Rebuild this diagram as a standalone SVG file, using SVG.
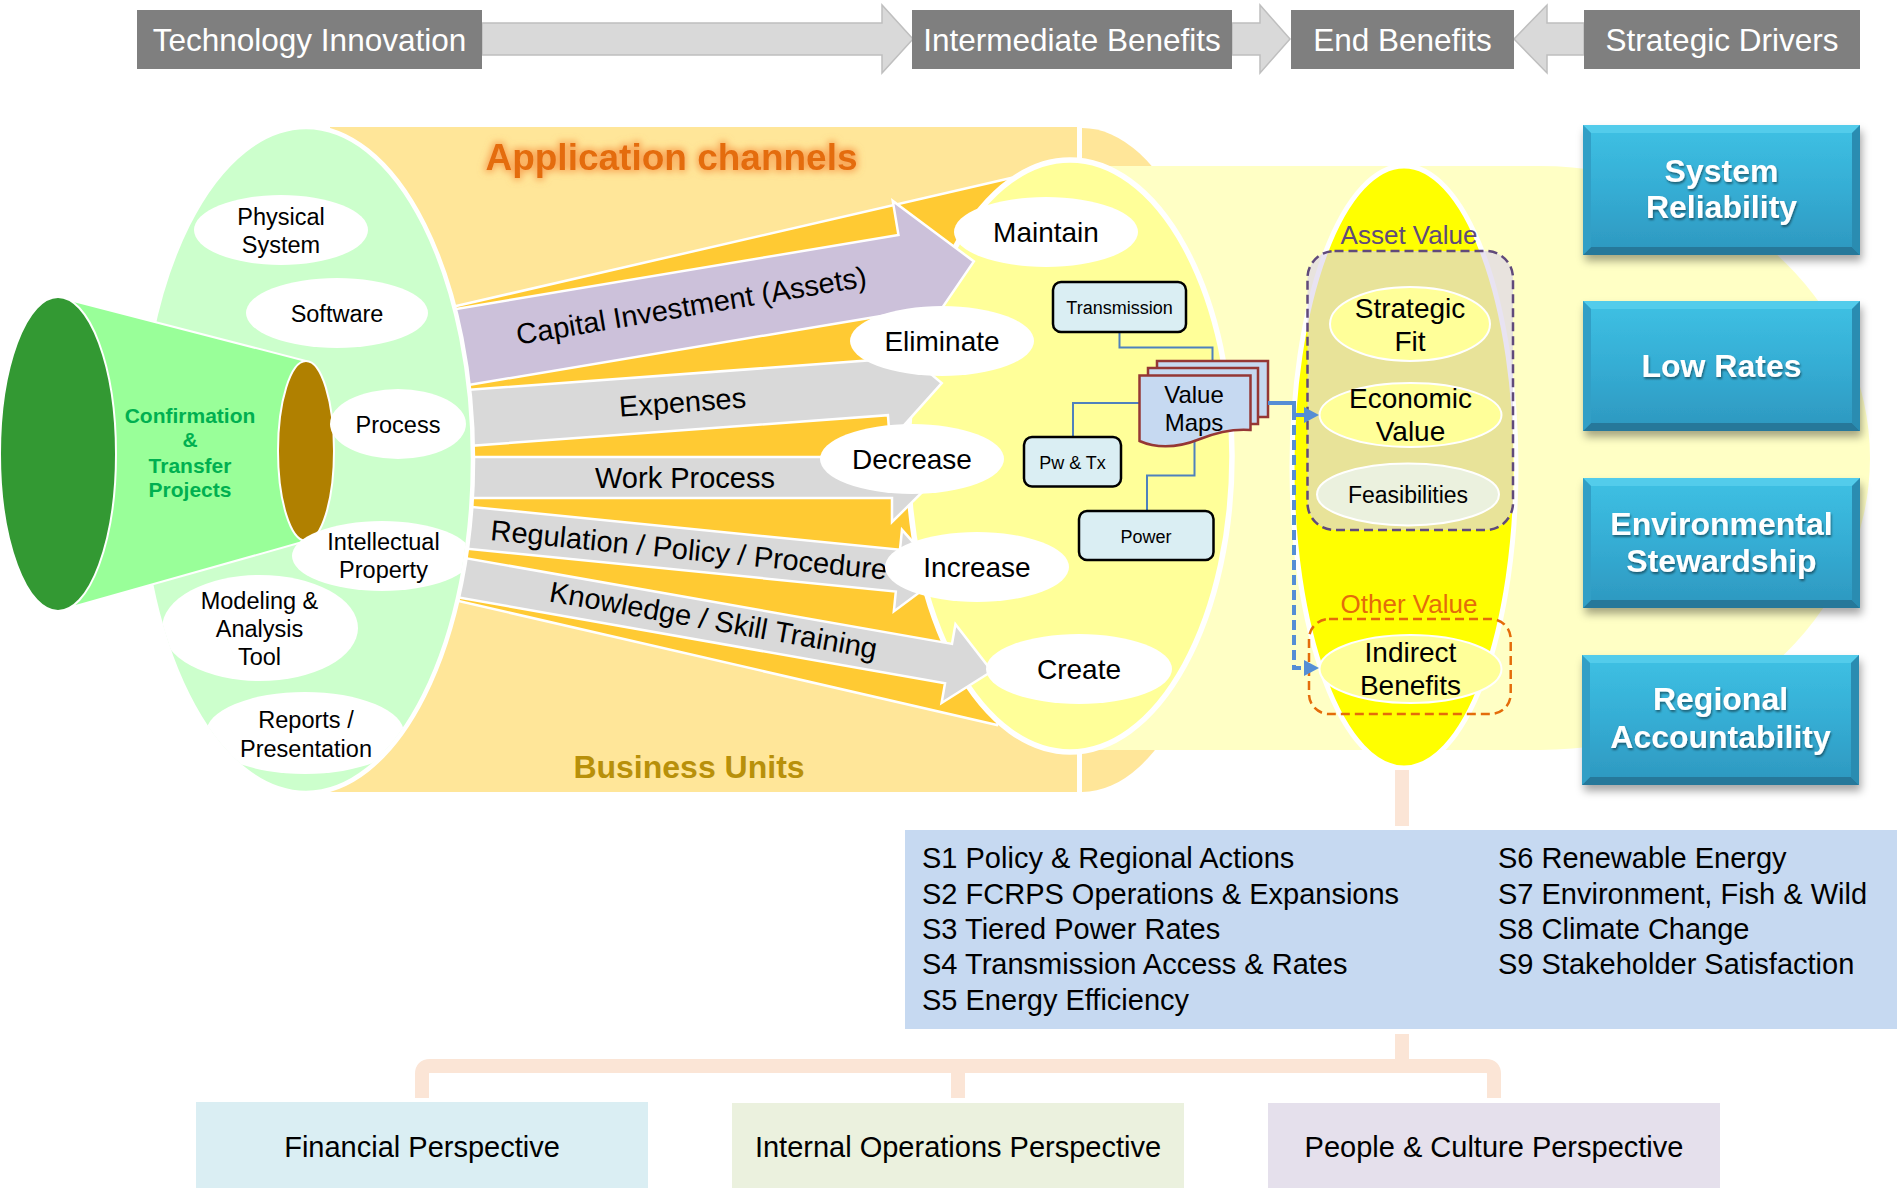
<svg xmlns="http://www.w3.org/2000/svg" width="1897" height="1188" viewBox="0 0 1897 1188">
<defs>
<style>
text{font-family:"Liberation Sans",Arial,Helvetica,sans-serif;fill:#000}
.hdr{fill:#7F7F7F}
.hdrt{fill:#fff;font-size:31.5px;text-anchor:middle}
.harr{fill:#D9D9D9;stroke:#BFBFBF;stroke-width:1.5}
.wel{fill:#fff}
.gt{font-size:23.5px;text-anchor:middle}
.it{font-size:28px;text-anchor:middle}
.at{font-size:29px;text-anchor:middle}
.arr{stroke:#fff;stroke-width:2.5}
.gray{fill:#D9D9D9}
.purple{fill:#CCC1DA}
.sbox{fill:#DAEEF3;stroke:#000;stroke-width:2.5}
.st{font-size:18px;text-anchor:middle}
.conn{fill:none;stroke:#4F81BD;stroke-width:2}
.blue{fill:none;stroke:#558ED5;stroke-width:4}
.bluehead{fill:#558ED5}
.yel{fill:#FFFF99;stroke:#fff;stroke-width:2}
.vt{font-size:28px;text-anchor:middle}
.bt{fill:#fff;font-size:32px;font-weight:bold;text-anchor:middle}
.peach{fill:none;stroke:#FBE5D6;stroke-width:14}
.s{font-size:29px}
.pt{font-size:29px;text-anchor:middle}
.doc{fill:#C6D9F1;stroke:#953735;stroke-width:2.5}
</style>
<linearGradient id="bg" x1="0" y1="0" x2="0" y2="1">
<stop offset="0" stop-color="#3EC1E4"/>
<stop offset="0.5" stop-color="#35ADD4"/>
<stop offset="1" stop-color="#2D97BF"/>
</linearGradient>
<filter id="sh" x="-10%" y="-10%" width="125%" height="140%">
<feDropShadow dx="2" dy="6" stdDeviation="4" flood-color="#000" flood-opacity="0.35"/>
</filter>
<filter id="tsh" x="-10%" y="-20%" width="120%" height="150%">
<feDropShadow dx="1" dy="2" stdDeviation="1.2" flood-color="#000" flood-opacity="0.45"/>
</filter>
<filter id="glow" x="-10%" y="-40%" width="120%" height="180%">
<feMorphology in="SourceAlpha" operator="dilate" radius="1.5" result="d"/>
<feGaussianBlur in="d" stdDeviation="3.5" result="b"/>
<feFlood flood-color="#F79646" flood-opacity="0.75"/>
<feComposite in2="b" operator="in" result="g"/>
<feMerge><feMergeNode in="g"/><feMergeNode in="SourceGraphic"/></feMerge>
</filter>
<clipPath id="gclip"><ellipse cx="306" cy="460" rx="165" ry="331"/></clipPath>
<g id="bbox">
<rect x="0" y="0" width="277" height="130" fill="url(#bg)"/>
<polygon points="0,0 277,0 269,8 8,8" fill="#52CCEB"/>
<polygon points="0,130 277,130 269,122 8,122" fill="#26789A"/>
<polygon points="0,0 8,8 8,122 0,130" fill="#309FC6"/>
<polygon points="277,0 269,8 269,122 277,130" fill="#2A8CB1"/>
</g>
</defs>

<rect x="0" y="0" width="1897" height="1188" fill="#fff"/>

<!-- top bar -->
<g id="top-bar">
<polygon class="harr" points="482,23 882,23 882,5 913,39 882,73 882,55 482,55"/>
<polygon class="harr" points="1232,23 1260,23 1260,5 1290,39 1260,73 1260,55 1232,55"/>
<polygon class="harr" points="1584,23 1547,23 1547,5 1514,39 1547,73 1547,55 1584,55"/>
<g id="technology-innovation"><rect class="hdr" x="137" y="10" width="345" height="59"/><text class="hdrt" x="309.5" y="51">Technology Innovation</text></g>
<g id="intermediate-benefits"><rect class="hdr" x="912" y="10" width="320" height="59"/><text class="hdrt" x="1072" y="51">Intermediate Benefits</text></g>
<g id="end-benefits"><rect class="hdr" x="1291" y="10" width="223" height="59"/><text class="hdrt" x="1402.5" y="51">End Benefits</text></g>
<g id="strategic-drivers"><rect class="hdr" x="1584" y="10" width="276" height="59"/><text class="hdrt" x="1722" y="51">Strategic Drivers</text></g>
</g>

<!-- backgrounds -->
<g id="backgrounds">
<rect x="330" y="127" width="747" height="665" fill="#FFE699"/>
<path d="M1082,128 A150,332 0 0 1 1082,792 Z" fill="#FFE699"/>
<path d="M1070,166 H1540 A330,292 0 0 1 1540,750 H1070 Z" fill="#FFFFC5"/>
<polygon points="440,309.8 1011,178 1060,300 1060,600 997,725 440,596.7" fill="#FFCA33" stroke="#fff" stroke-width="2.5"/>
</g>

<g id="intermediate-ellipse">
<ellipse cx="1070" cy="456" rx="162" ry="296" fill="#FFFF99" stroke="#fff" stroke-width="5.5"/>
</g>

<!-- channel arrows -->
<g id="channels">
<g id="capital-investment" transform="translate(460,347.4) rotate(-9.5)">
<path class="arr purple" d="M-40,-38.5 H451 V-73 L521,0 L451,73 V38.5 H-40 Z"/>
<text class="at" x="235" y="7">Capital Investment (Assets)</text>
</g>
<g id="expenses" transform="translate(474,417.5) rotate(-4.2)">
<path class="arr gray" d="M-40,-28 H413 V-54 L469,0 L413,54 V28 H-40 Z"/>
<text class="at" x="209" y="10">Expenses</text>
</g>
<g id="work-process" transform="translate(477,477.5)">
<path class="arr gray" d="M-40,-20.5 H415 V-44.5 L460,0 L415,44.5 V20.5 H-40 Z"/>
<text class="at" x="208" y="10.5">Work Process</text>
</g>
<g id="regulation" transform="translate(476,528.5) rotate(5.7)">
<path class="arr gray" d="M-40,-21 H424 V-41 L469,0 L424,41 V21 H-40 Z"/>
<text class="at" x="214" y="10">Regulation / Policy / Procedure</text>
</g>
<g id="knowledge" transform="translate(463,578) rotate(10)">
<path class="arr gray" d="M-40,-20 H493 V-40 L537,0 L493,40 V20 H-40 Z"/>
<text class="at" x="254" y="8">Knowledge / Skill Training</text>
</g>
</g>

<!-- technology ellipse -->
<g id="technology-ellipse">
<ellipse cx="306" cy="460" rx="167" ry="333" fill="#CCFFCC" stroke="#fff" stroke-width="4.5"/>
</g>

<g id="confirmation-transfer-projects">
<polygon points="58,297 306,361 306,541 58,611" fill="#99FF99" stroke="#fff" stroke-width="2"/>
<ellipse cx="58" cy="454" rx="58" ry="157" fill="#339933" stroke="#fff" stroke-width="2"/>
<ellipse cx="306" cy="451" rx="28" ry="90" fill="#B08000" stroke="#fff" stroke-width="2"/>
<text x="190" y="422.7" style="font-size:21px;font-weight:bold;fill:#00B050;text-anchor:middle">Confirmation</text>
<text x="190" y="446.7" style="font-size:21px;font-weight:bold;fill:#00B050;text-anchor:middle">&amp;</text>
<text x="190" y="473" style="font-size:21px;font-weight:bold;fill:#00B050;text-anchor:middle">Transfer</text>
<text x="190" y="497" style="font-size:21px;font-weight:bold;fill:#00B050;text-anchor:middle">Projects</text>
</g>

<g id="tech-items" clip-path="url(#gclip)">
<g id="physical-system"><ellipse class="wel" cx="281" cy="230" rx="87" ry="35"/><text class="gt" x="281" y="225">Physical</text><text class="gt" x="281" y="253">System</text></g>
<g id="software"><ellipse class="wel" cx="337" cy="313" rx="91" ry="35"/><text class="gt" x="337" y="321.5">Software</text></g>
<g id="process"><ellipse class="wel" cx="398" cy="424" rx="68" ry="35"/><text class="gt" x="398" y="432.5">Process</text></g>
<g id="intellectual-property"><ellipse class="wel" cx="382" cy="556" rx="90" ry="35"/><text class="gt" x="383.5" y="550">Intellectual</text><text class="gt" x="383.5" y="578">Property</text></g>
<g id="modeling-analysis-tool"><ellipse class="wel" cx="260" cy="628" rx="98" ry="53"/><text class="gt" x="259.5" y="609.3">Modeling &amp;</text><text class="gt" x="259.5" y="636.7">Analysis</text><text class="gt" x="259.5" y="665">Tool</text></g>
<g id="reports-presentation"><ellipse class="wel" cx="305" cy="733" rx="99" ry="41"/><text class="gt" x="306" y="728">Reports /</text><text class="gt" x="306" y="756.7">Presentation</text></g>
</g>

<g id="intermediate-items">
<g id="maintain"><ellipse class="wel" cx="1046" cy="232" rx="92" ry="35"/><text class="it" x="1046" y="242">Maintain</text></g>
<g id="eliminate"><ellipse class="wel" cx="942" cy="341" rx="92" ry="35"/><text class="it" x="942" y="351">Eliminate</text></g>
<g id="decrease"><ellipse class="wel" cx="912" cy="459" rx="92" ry="35"/><text class="it" x="912" y="469">Decrease</text></g>
<g id="increase"><ellipse class="wel" cx="977" cy="567" rx="92" ry="35"/><text class="it" x="977" y="577">Increase</text></g>
<g id="create"><ellipse class="wel" cx="1079" cy="669" rx="93" ry="35"/><text class="it" x="1079" y="679">Create</text></g>
</g>

<g id="value-map-connectors">
<path class="conn" d="M1119.5,332 V347.5 H1212.5 V361"/>
<path class="conn" d="M1073,437 V403 H1139.5"/>
<path class="conn" d="M1147,511 V475.5 H1194.5 V441"/>
</g>

<g id="transmission"><rect class="sbox" x="1053" y="282" width="133" height="50" rx="8"/><text class="st" x="1119.5" y="314">Transmission</text></g>
<g id="pw-tx"><rect class="sbox" x="1024" y="437" width="97" height="49.5" rx="8"/><text class="st" x="1072.5" y="469">Pw &amp; Tx</text></g>
<g id="power"><rect class="sbox" x="1079" y="511" width="134.5" height="49" rx="8"/><text class="st" x="1146" y="543">Power</text></g>

<g id="value-maps">
<rect class="doc" x="1157" y="361" width="111" height="56"/>
<rect class="doc" x="1148" y="368" width="110" height="56"/>
<path class="doc" d="M1139.5,375.5 H1250.5 V430 C1238,429 1220,431 1200,439 C1180,447 1160,450 1139.5,441 Z"/>
<text x="1194" y="403" style="font-size:24px;text-anchor:middle">Value</text>
<text x="1194" y="431" style="font-size:24px;text-anchor:middle">Maps</text>
</g>

<!-- end benefits column -->
<g id="end-benefits-ellipse">
<ellipse cx="1404" cy="467" rx="112" ry="301" fill="#FFFF00" stroke="#fff" stroke-width="5"/>
</g>

<g id="asset-value">
<rect x="1307.5" y="251" width="205.5" height="279" rx="27" fill="#DCD4EB" fill-opacity="0.65" stroke="#604A7B" stroke-width="2.5" stroke-dasharray="9 5"/>
<text x="1409" y="244" style="font-size:26px;fill:#604A7B;text-anchor:middle">Asset Value</text>
<g id="strategic-fit"><ellipse class="yel" cx="1410" cy="324" rx="80" ry="37"/><text class="vt" x="1410" y="318">Strategic</text><text class="vt" x="1410" y="350.5">Fit</text></g>
<g id="economic-value"><ellipse class="yel" cx="1410.5" cy="415" rx="91" ry="32"/><text class="vt" x="1410.5" y="408">Economic</text><text class="vt" x="1410.5" y="441">Value</text></g>
<g id="feasibilities"><ellipse cx="1408" cy="494.4" rx="91" ry="31" fill="#EBF1DE" stroke="#fff" stroke-width="2"/><text x="1408" y="503" style="font-size:23px;text-anchor:middle">Feasibilities</text></g>
</g>

<g id="other-value">
<rect x="1309" y="619" width="201.7" height="95" rx="20" fill="none" stroke="#E46C0A" stroke-width="2.5" stroke-dasharray="9 5"/>
<text x="1409" y="613" style="font-size:26px;fill:#E46C0A;text-anchor:middle">Other Value</text>
<g id="indirect-benefits"><ellipse class="yel" cx="1410.5" cy="669" rx="91" ry="34"/><text class="vt" x="1410.5" y="662">Indirect</text><text class="vt" x="1410.5" y="695">Benefits</text></g>
</g>

<g id="value-flow-connectors">
<path class="blue" d="M1268,403 H1294 V415 H1306"/>
<polygon class="bluehead" points="1304,407 1319,415 1304,423"/>
<path class="blue" d="M1294,410 V668 H1306" stroke-dasharray="10 5"/>
<polygon class="bluehead" points="1304,660 1319,668 1304,676"/>
</g>

<!-- strategic drivers -->
<g id="system-reliability"><use href="#bbox" x="1583" y="125" filter="url(#sh)"/><g filter="url(#tsh)"><text class="bt" x="1721.5" y="181.7">System</text><text class="bt" x="1721.5" y="218">Reliability</text></g></g>
<g id="low-rates"><use href="#bbox" x="1583" y="301" filter="url(#sh)"/><g filter="url(#tsh)"><text class="bt" x="1721.5" y="377">Low Rates</text></g></g>
<g id="environmental-stewardship"><use href="#bbox" x="1583" y="478" filter="url(#sh)"/><g filter="url(#tsh)"><text class="bt" x="1721.5" y="535">Environmental</text><text class="bt" x="1721.5" y="572">Stewardship</text></g></g>
<g id="regional-accountability"><use href="#bbox" x="1582" y="655" filter="url(#sh)"/><g filter="url(#tsh)"><text class="bt" x="1720.5" y="710">Regional</text><text class="bt" x="1720.5" y="748">Accountability</text></g></g>

<g id="labels">
<text x="671.5" y="170" filter="url(#glow)" style="font-size:37px;font-weight:bold;fill:#E46C0A;text-anchor:middle">Application channels</text>
<text x="689" y="778" style="font-size:32px;font-weight:bold;fill:#B8900A;text-anchor:middle">Business Units</text>
</g>

<!-- lower section -->
<g id="tree-connectors">
<path class="peach" d="M1402,770 V826"/>
<path class="peach" d="M1402,1034 V1066"/>
<path class="peach" d="M422,1098 V1074 Q422,1066 430,1066 H1486 Q1494,1066 1494,1074 V1098"/>
<path class="peach" d="M958,1066 V1098"/>
</g>

<g id="strategic-objectives">
<rect x="905" y="830" width="992" height="199" fill="#C6D9F1"/>
<text class="s" x="922" y="868">S1 Policy &amp; Regional Actions</text>
<text class="s" x="922" y="904">S2 FCRPS Operations &amp; Expansions</text>
<text class="s" x="922" y="939">S3 Tiered Power Rates</text>
<text class="s" x="922" y="974">S4 Transmission Access &amp; Rates</text>
<text class="s" x="922" y="1010">S5 Energy Efficiency</text>
<text class="s" x="1498" y="868">S6 Renewable Energy</text>
<text class="s" x="1498" y="904">S7 Environment, Fish &amp; Wild</text>
<text class="s" x="1498" y="939">S8 Climate Change</text>
<text class="s" x="1498" y="974">S9 Stakeholder Satisfaction</text>
</g>

<g id="financial-perspective"><rect x="196" y="1102" width="452" height="86" fill="#DAEEF3"/><text class="pt" x="422" y="1157">Financial Perspective</text></g>
<g id="internal-operations-perspective"><rect x="732" y="1103" width="452" height="85" fill="#EBF1DE"/><text class="pt" x="958" y="1157">Internal Operations Perspective</text></g>
<g id="people-culture-perspective"><rect x="1268" y="1103" width="452" height="85" fill="#E5E0EC"/><text class="pt" x="1494" y="1157">People &amp; Culture Perspective</text></g>
</svg>
